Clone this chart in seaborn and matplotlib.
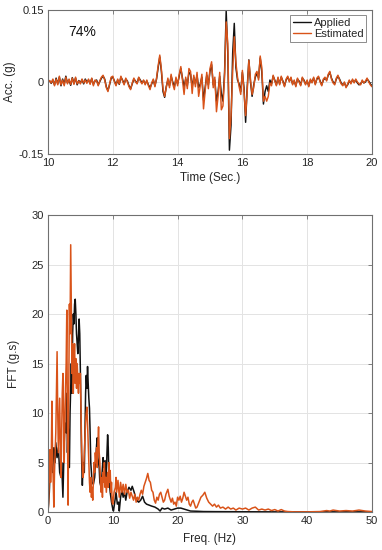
import numpy as np
import pandas as pd
import matplotlib
matplotlib.use("Agg")
import matplotlib.pyplot as plt
import seaborn as sns
from matplotlib.lines import Line2D

# ---------------- data ----------------
time_start = 10.0
time_step = 0.05
acc_applied = [
    0.000, 0.002, -0.003, 0.004, -0.006, 0.008, -0.004, 0.010, -0.008, 0.006,
    -0.005, 0.012, -0.002, 0.004, -0.007, 0.009, -0.003, 0.008, -0.006, 0.003,
    -0.002, 0.005, -0.004, 0.006, 0.000, 0.004, -0.003, 0.007, -0.005, 0.002,
    0.004, -0.006, 0.001, 0.008, 0.012, 0.006, -0.010, -0.018, -0.006, 0.008,
    0.010, 0.002, -0.006, 0.004, -0.005, 0.010, 0.004, -0.004, 0.006, 0.002,
    -0.008, -0.014, -0.004, 0.006, 0.002, -0.003, 0.009, 0.004, -0.002, 0.003,
    -0.004, 0.002, -0.006, -0.012, -0.004, 0.004, -0.008, 0.006, 0.030, 0.052,
    0.022, -0.020, -0.032, -0.010, 0.004, -0.008, 0.012, 0.000, -0.010, 0.006,
    -0.004, 0.012, 0.028, 0.008, -0.010, 0.006, -0.008, 0.020, 0.016, -0.010,
    0.010, -0.004, 0.014, -0.012, -0.004, 0.010, -0.038, -0.012, 0.014, -0.006,
    0.022, 0.036, -0.006, 0.004, -0.040, -0.020, 0.012, -0.024, -0.040, 0.020,
    0.148, 0.060, -0.142, -0.090, 0.060, 0.122, 0.030, 0.004, -0.004, -0.020,
    0.020, -0.012, -0.084, -0.010, 0.046, 0.000, -0.030, -0.006, 0.010, 0.018,
    0.008, 0.050, 0.020, -0.046, -0.020, -0.008, -0.020, 0.004, -0.004, 0.012,
    0.004, -0.006, 0.008, -0.004, 0.010, 0.002, -0.008, 0.004, 0.010, 0.002,
    0.008, -0.004, 0.002, -0.008, 0.006, 0.002, -0.006, 0.008, 0.004, -0.004,
    0.002, -0.008, 0.004, 0.000, 0.008, -0.004, 0.006, 0.010, 0.002, -0.006,
    0.004, 0.008, 0.004, 0.014, 0.020, 0.008, 0.000, -0.004, 0.006, 0.012,
    0.006, -0.002, -0.006, -0.002, -0.010, -0.006, 0.002, -0.002, 0.004, 0.000,
    0.004, -0.002, -0.006, -0.004, 0.002, -0.002, 0.000, 0.006, 0.002, -0.004,
    -0.008,
]
acc_estimated = [
    0.000, 0.003, -0.002, 0.006, -0.008, 0.006, -0.006, 0.012, -0.006, 0.004,
    -0.008, 0.010, -0.004, 0.006, -0.005, 0.008, -0.005, 0.010, -0.004, 0.002,
    -0.004, 0.006, -0.002, 0.004, -0.003, 0.006, -0.005, 0.008, -0.008, 0.004,
    0.002, -0.008, 0.003, 0.010, 0.014, 0.004, -0.012, -0.020, -0.004, 0.010,
    0.012, 0.000, -0.008, 0.006, -0.004, 0.012, 0.002, -0.006, 0.008, 0.000,
    -0.010, -0.016, -0.002, 0.008, 0.000, -0.004, 0.010, 0.002, -0.004, 0.004,
    -0.006, 0.004, -0.008, -0.016, -0.002, 0.006, -0.010, 0.008, 0.034, 0.056,
    0.026, -0.014, -0.030, -0.012, 0.008, -0.012, 0.016, -0.004, -0.016, 0.010,
    -0.008, 0.016, 0.032, 0.004, -0.026, 0.010, -0.014, 0.028, 0.022, -0.024,
    0.014, -0.010, 0.020, -0.030, -0.008, 0.016, -0.056, -0.020, 0.020, -0.014,
    0.028, 0.042, -0.012, 0.010, -0.062, -0.030, 0.020, -0.058, -0.050, 0.010,
    0.125, 0.080, -0.118, -0.070, 0.020, 0.094, 0.040, 0.010, -0.010, -0.026,
    0.024, -0.020, -0.070, -0.018, 0.045, 0.006, -0.026, -0.012, 0.016, 0.022,
    0.004, 0.054, 0.030, -0.040, -0.030, -0.040, -0.030, -0.002, -0.008, 0.014,
    0.002, -0.008, 0.010, -0.006, 0.012, 0.000, -0.010, 0.006, 0.012, 0.000,
    0.010, -0.006, 0.004, -0.010, 0.008, 0.000, -0.008, 0.010, 0.002, -0.006,
    0.004, -0.010, 0.006, -0.002, 0.010, -0.006, 0.008, 0.012, 0.000, -0.008,
    0.006, 0.010, 0.002, 0.016, 0.022, 0.006, -0.002, -0.006, 0.008, 0.014,
    0.004, -0.004, -0.008, 0.000, -0.012, -0.004, 0.004, -0.004, 0.006, -0.002,
    0.006, 0.000, -0.004, -0.006, 0.004, -0.002, 0.002, 0.008, 0.000, -0.006,
    -0.010,
]

freq_applied = [
    0.0, 0.2, 0.4, 0.5, 0.7, 0.9, 1.1, 1.2, 1.4, 1.6, 1.8, 2.0, 2.1, 2.3, 2.5,
    2.6, 2.8, 2.9, 3.0, 3.1, 3.3, 3.4, 3.6, 3.7, 3.8, 3.9, 4.0, 4.1, 4.2, 4.3,
    4.4, 4.5, 4.6, 4.8, 4.9, 5.0, 5.1, 5.2, 5.3, 5.4, 5.5, 5.6, 5.7, 5.8, 5.9,
    6.0, 6.1, 6.2, 6.3, 6.4, 6.5, 6.6, 6.7, 6.8, 7.0, 7.2, 7.3, 7.5, 7.6, 7.7,
    7.9, 8.0, 8.2, 8.3, 8.5, 8.6, 8.8, 8.9, 9.0, 9.1, 9.2, 9.3, 9.4, 9.6, 9.8,
    10.0, 10.1, 10.3, 10.5, 10.7, 10.9, 11.0, 11.2, 11.4, 11.6, 11.8, 12.0,
    12.2, 12.5, 12.8, 13.0, 13.3, 13.5, 13.8, 14.0, 14.3, 14.6, 14.9, 15.2,
    15.6, 16.0, 16.5, 17.0, 17.3, 17.6, 18.0, 18.5, 19.0, 19.5, 20.0, 20.5,
    21.0, 21.5, 22.0, 23.0, 24.0, 26.0, 30.0, 35.0, 40.0, 45.0, 50.0,
]
fft_applied = [
    0.0, 2.0, 5.5, 6.0, 4.0, 6.5, 5.0, 7.0, 5.5, 6.5, 4.0, 3.5, 5.0, 1.5, 7.0,
    9.0, 8.0, 12.0, 6.0, 9.0, 4.5, 10.0, 15.0, 12.0, 18.0, 20.0, 19.0, 21.0, 21.5, 20.0,
    18.0, 17.0, 16.0, 19.5, 18.0, 14.0, 9.0, 5.0, 2.7, 4.5, 5.0, 4.0, 8.0, 12.0, 13.8,
    12.5, 14.7, 13.0, 11.5, 10.5, 8.0, 5.0, 4.0, 3.0, 2.8, 3.5, 4.5, 6.8, 7.5, 5.5,
    4.5, 3.0, 2.5, 3.5, 5.5, 4.5, 5.2, 3.5, 4.0, 6.0, 7.8, 6.5, 3.5, 2.0, 1.0,
    0.3, 0.1, 1.0, 2.0, 0.8, 1.0, 0.1, 1.5, 2.2, 1.5, 2.0, 1.2,
    2.0, 2.5, 2.2, 2.6, 2.0, 1.5, 1.1, 1.0, 1.2, 1.6, 1.0, 0.8,
    0.7, 0.6, 0.5, 0.3, 0.1, 0.4, 0.3, 0.4, 0.2, 0.3, 0.4, 0.4,
    0.3, 0.2, 0.1, 0.08, 0.05, 0.04, 0.03, 0.02, 0.02, 0.02, 0.02,
]

freq_estimated = [
    0.0, 0.1, 0.2, 0.3, 0.4, 0.5, 0.6, 0.7, 0.8, 0.9, 1.0, 1.2, 1.3, 1.4, 1.5,
    1.6, 1.7, 1.8, 1.9, 2.0, 2.1, 2.2, 2.3, 2.4, 2.5, 2.6, 2.7, 2.8, 2.9, 3.0,
    3.1, 3.2, 3.3, 3.4, 3.5, 3.6, 3.7, 3.8, 3.9, 4.0, 4.1, 4.2, 4.3, 4.4, 4.5,
    4.6, 4.7, 4.8, 4.9, 5.0, 5.1, 5.2, 5.3, 5.4, 5.5, 5.6, 5.7, 5.8, 5.9, 6.0,
    6.1, 6.2, 6.3, 6.4, 6.5, 6.6, 6.7, 6.8, 6.9, 7.0, 7.1, 7.2, 7.3, 7.4, 7.5,
    7.6, 7.7, 7.8, 7.9, 8.0, 8.1, 8.2, 8.3, 8.4, 8.5, 8.6, 8.7, 8.8, 8.9, 9.0,
    9.2, 9.3, 9.4, 9.5, 9.6, 9.7, 9.8, 9.9, 10.0, 10.2, 10.4, 10.5, 10.6, 10.8,
    11.0, 11.2, 11.4, 11.6, 11.8, 12.0, 12.2, 12.4, 12.6, 12.8, 13.0, 13.2,
    13.4, 13.6, 13.8, 14.0, 14.2, 14.4, 14.6, 14.8, 15.0, 15.2, 15.4, 15.6,
    15.8, 16.0, 16.2, 16.4, 16.6, 16.8, 17.0, 17.2, 17.4, 17.6, 17.8, 18.0,
    18.2, 18.5, 18.7, 19.0, 19.2, 19.4, 19.6, 19.8, 20.0, 20.2, 20.4, 20.6,
    20.8, 21.0, 21.2, 21.4, 21.6, 21.8, 22.0, 22.2, 22.4, 22.6, 22.8, 23.0,
    23.3, 23.6, 23.9, 24.2, 24.5, 24.8, 25.1, 25.4, 25.7, 26.0, 26.3, 26.6,
    27.0, 27.4, 27.8, 28.2, 28.6, 29.0, 29.5, 30.0, 30.5, 31.0, 31.5, 32.0,
    32.5, 33.0, 33.5, 34.0, 34.5, 35.0, 35.5, 36.0, 36.5, 37.0, 38.0, 40.0,
    42.0, 43.0, 43.5, 44.0, 45.0, 46.0, 47.0, 48.0, 49.0, 50.0,
]
fft_estimated = [
    0.0, 1.0, 4.0, 6.3, 3.0, 5.0, 11.2, 6.0, 3.0, 0.5, 4.0, 8.0, 12.0, 16.2, 10.0,
    6.0, 9.0, 11.5, 7.0, 3.5, 8.0, 12.0, 14.0, 10.0, 5.0, 9.0, 12.5, 15.0, 20.4, 8.0,
    0.7, 12.0, 21.0, 18.0, 27.0, 20.0, 14.0, 17.0, 12.0, 15.0, 17.0, 13.0, 15.5, 12.5, 15.0,
    13.5, 12.0, 14.0, 13.0, 14.0, 10.0, 6.0, 4.5, 3.5, 4.0, 6.0, 7.5, 9.0, 10.0, 10.6,
    9.0, 7.0, 5.0, 3.0, 2.0, 3.5, 1.5, 2.5, 1.2, 3.0, 5.0, 4.0, 6.0, 5.0, 6.5,
    4.5, 7.0, 8.6, 6.0, 5.0, 3.0, 2.0, 3.5, 1.5, 4.0, 3.0, 5.0, 2.5, 3.5, 2.0,
    4.0, 2.5, 5.0, 3.0, 4.2, 2.0, 3.0, 1.0, 0.8, 2.0, 2.5, 3.5, 2.0, 3.2,
    1.5, 3.0, 2.0, 2.8, 1.8, 2.8, 2.0, 2.2, 1.4, 2.0, 1.6, 1.2,
    1.8, 1.0, 1.5, 1.2, 1.8, 2.2, 1.8, 2.6, 3.0, 3.4, 3.9, 3.2,
    3.0, 2.2, 2.0, 1.2, 0.9, 1.5, 1.2, 1.8, 2.0, 1.5, 1.0, 1.2,
    1.8, 2.3, 1.6, 1.0, 1.4, 0.8, 1.0, 0.6, 1.5, 1.2, 1.6, 1.0,
    1.4, 2.0, 1.6, 1.2, 1.5, 0.8, 0.6, 1.0, 1.2, 0.8, 0.4, 0.5,
    1.0, 1.5, 1.7, 2.0, 1.4, 1.0, 0.8, 0.6, 0.8, 0.5, 0.7, 0.4,
    0.5, 0.3, 0.5, 0.3, 0.4, 0.2, 0.4, 0.3, 0.4, 0.2, 0.4, 0.5,
    0.2, 0.3, 0.2, 0.3, 0.15, 0.25, 0.1, 0.25, 0.1, 0.05, 0.02, 0.02,
    0.05, 0.15, 0.1, 0.2, 0.1, 0.15, 0.1, 0.2, 0.1, 0.05,
]

series_names = ["Applied", "Estimated"]
series_colors = {"Applied": "#111111", "Estimated": "#D95319"}
annotation_text = "74%"

# ---------------- build frames ----------------
n = len(acc_applied)
time_vals = [round(time_start + i * time_step, 4) for i in range(n)]
df_time = pd.concat([
    pd.DataFrame({"t": time_vals, "v": acc_applied, "s": "Applied"}),
    pd.DataFrame({"t": time_vals, "v": acc_estimated, "s": "Estimated"}),
], ignore_index=True)
df_fft = pd.concat([
    pd.DataFrame({"f": freq_applied, "a": fft_applied, "s": "Applied"}),
    pd.DataFrame({"f": freq_estimated, "a": fft_estimated, "s": "Estimated"}),
], ignore_index=True)

sns.set_style("white")
plt.rcParams["font.family"] = ["Liberation Sans", "DejaVu Sans"]

fig = plt.figure(figsize=(3.82, 5.5), dpi=100)
ax1 = fig.add_axes([0.1257, 0.72, 0.848, 0.262])
ax2 = fig.add_axes([0.1257, 0.069, 0.848, 0.540])

tick_col = "#262626"
spine_col = "#707070"

def style(ax):
    ax.grid(True, color="#e3e3e3", linewidth=0.7)
    ax.set_axisbelow(True)
    for sp in ax.spines.values():
        sp.set_color(spine_col)
        sp.set_linewidth(0.8)
        sp.set_visible(True)
    ax.tick_params(direction="in", length=3, width=0.6, color=spine_col,
                   labelsize=8, labelcolor=tick_col, top=True, right=True,
                   pad=3)

# top panel
sns.lineplot(data=df_time, x="t", y="v", hue="s", hue_order=series_names,
             palette=series_colors, estimator=None, sort=False, ax=ax1,
             linewidth=1.05, legend=False)
ax1.set_xlim(10, 20)
ax1.set_ylim(-0.15, 0.15)
ax1.set_xticks([10, 12, 14, 16, 18, 20])
ax1.set_yticks([-0.15, 0, 0.15])
ax1.set_yticklabels(["-0.15", "0", "0.15"])
ax1.set_xlabel("Time (Sec.)", fontsize=8.5, color=tick_col, labelpad=3)
ax1.set_ylabel("Acc. (g)", fontsize=8.5, color=tick_col, labelpad=2)
style(ax1)
ax1.text(0.062, 0.85, annotation_text, transform=ax1.transAxes, fontsize=10,
         color="#111111", va="center", ha="left")

handles = [Line2D([], [], color=series_colors[s], linewidth=1.0) for s in series_names]
leg = ax1.legend(handles, series_names, loc="upper right", fontsize=8,
                 frameon=True, fancybox=False, framealpha=1, edgecolor="#8c8c8c",
                 handlelength=1.6, handletextpad=0.3, borderpad=0.25,
                 labelspacing=0.1, borderaxespad=0.5)
leg.get_frame().set_linewidth(0.7)

# bottom panel
sns.lineplot(data=df_fft, x="f", y="a", hue="s", hue_order=series_names,
             palette=series_colors, estimator=None, sort=False, ax=ax2,
             linewidth=1.1, legend=False)
ax2.set_xlim(0, 50)
ax2.set_ylim(0, 30)
ax2.set_xticks([0, 10, 20, 30, 40, 50])
ax2.set_yticks([0, 5, 10, 15, 20, 25, 30])
ax2.set_xlabel("Freq. (Hz)", fontsize=8.5, color=tick_col, labelpad=5)
ax2.set_ylabel("FFT (g.s)", fontsize=8.5, color=tick_col, labelpad=8)
style(ax2)

fig.savefig("out.png", dpi=100)
